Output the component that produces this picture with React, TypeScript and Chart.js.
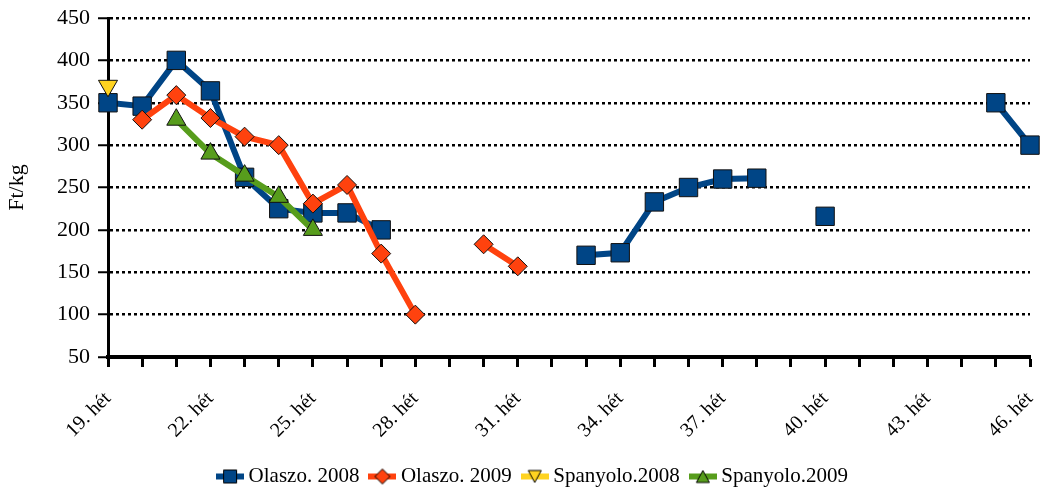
import React, { useEffect, useRef } from 'react';
import { Chart, registerables } from 'chart.js';

Chart.register(...registerables);

const weeks = [
  '19. hét', '20. hét', '21. hét', '22. hét', '23. hét', '24. hét', '25. hét',
  '26. hét', '27. hét', '28. hét', '29. hét', '30. hét', '31. hét', '32. hét',
  '33. hét', '34. hét', '35. hét', '36. hét', '37. hét', '38. hét', '39. hét',
  '40. hét', '41. hét', '42. hét', '43. hét', '44. hét', '45. hét', '46. hét',
];

const olaszo2008 = [350, 346, 400, 364, 262, 225, 220, 220, 200, null, null, null, null, null,
  170, 173, 233, 250, 260, 261, null, 216, null, null, null, null, 350, 300];
const olaszo2009 = [null, 330, 359, 332, 310, 300, 231, 253, 172, 100, null, 183, 157, null,
  null, null, null, null, null, null, null, null, null, null, null, null, null, null];
const spanyolo2008 = [370, null, null, null, null, null, null, null, null, null, null, null, null, null,
  null, null, null, null, null, null, null, null, null, null, null, null, null, null];
const spanyolo2009 = [null, null, 330, 290, 264, 239, 200, null, null, null, null, null, null, null,
  null, null, null, null, null, null, null, null, null, null, null, null, null, null];

const seriesNames = ['Olaszo. 2008', 'Olaszo. 2009', 'Spanyolo.2008', 'Spanyolo.2009'];
const yAxisTitle = 'Ft/kg';
const yMin = 50;
const yMax = 450;
const yStep = 50;

const FONT = '"Liberation Serif", "Times New Roman", serif';
const BLUE = '#004586';
const ORANGE = '#ff420e';
const YELLOW = '#ffd320';
const GREEN = '#579d1c';

const BOTTOM_PAD = -10;
const LEGEND_SHIFT = 18;

function makeIcon(color: string, shape: string): HTMLCanvasElement {
  const c = document.createElement('canvas');
  c.width = 28;
  c.height = 18;
  const ctx = c.getContext('2d')!;
  ctx.fillStyle = color;
  ctx.fillRect(0, 6, 28, 6);
  ctx.strokeStyle = '#000';
  ctx.lineWidth = 1;
  const cx = 14;
  const cy = 9;
  ctx.beginPath();
  if (shape === 'square') {
    ctx.rect(cx - 6.5, cy - 6.5, 13, 13);
  } else if (shape === 'diamond') {
    ctx.moveTo(cx, cy - 7.5);
    ctx.lineTo(cx + 7.5, cy);
    ctx.lineTo(cx, cy + 7.5);
    ctx.lineTo(cx - 7.5, cy);
    ctx.closePath();
  } else if (shape === 'down') {
    ctx.moveTo(cx - 6.5, cy - 6);
    ctx.lineTo(cx + 6.5, cy - 6);
    ctx.lineTo(cx, cy + 6);
    ctx.closePath();
  } else {
    ctx.moveTo(cx, cy - 6);
    ctx.lineTo(cx + 6.5, cy + 6);
    ctx.lineTo(cx - 6.5, cy + 6);
    ctx.closePath();
  }
  ctx.fill();
  ctx.stroke();
  return c;
}

const legendShift = {
  id: 'legendShift',
  afterLayout(chart: any) {
    const lg = chart.legend;
    if (lg) {
      lg.left += LEGEND_SHIFT;
      lg.right += LEGEND_SHIFT;
    }
  },
};

export default function App() {
  const ref = useRef<HTMLCanvasElement>(null);

  useEffect(() => {
    if (!ref.current) return;
    const icons = [
      makeIcon(BLUE, 'square'),
      makeIcon(ORANGE, 'diamond'),
      makeIcon(YELLOW, 'down'),
      makeIcon(GREEN, 'up'),
    ];
    const chart = new Chart(ref.current, {
      type: 'line',
      plugins: [legendShift],
      data: {
        labels: weeks,
        datasets: [
          {
            label: seriesNames[0],
            data: olaszo2008,
            borderColor: BLUE,
            backgroundColor: BLUE,
            borderWidth: 6,
            pointStyle: 'rect',
            pointRadius: 13,
            pointBorderColor: '#111',
            pointBorderWidth: 1,
            pointBackgroundColor: BLUE,
            order: 4,
          },
          {
            label: seriesNames[1],
            data: olaszo2009,
            borderColor: ORANGE,
            backgroundColor: ORANGE,
            borderWidth: 6,
            pointStyle: 'rectRot',
            pointRadius: 9.5,
            pointBorderColor: '#111',
            pointBorderWidth: 1,
            pointBackgroundColor: ORANGE,
            order: 3,
          },
          {
            label: seriesNames[2],
            data: spanyolo2008,
            borderColor: YELLOW,
            backgroundColor: YELLOW,
            borderWidth: 6,
            pointStyle: 'triangle',
            rotation: 180,
            pointRadius: 11,
            pointBorderColor: '#111',
            pointBorderWidth: 1,
            pointBackgroundColor: YELLOW,
            order: 2,
          },
          {
            label: seriesNames[3],
            data: spanyolo2009,
            borderColor: GREEN,
            backgroundColor: GREEN,
            borderWidth: 6,
            pointStyle: 'triangle',
            pointRadius: 11,
            pointBorderColor: '#111',
            pointBorderWidth: 1,
            pointBackgroundColor: GREEN,
            order: 1,
          },
        ],
      },
      options: {
        responsive: false,
        animation: false,
        devicePixelRatio: 1,
        layout: { padding: { left: 0, right: 10, top: 18, bottom: BOTTOM_PAD } },
        plugins: {
          tooltip: { enabled: false },
          legend: {
            position: 'bottom',
            labels: {
              color: '#000',
              font: { family: FONT, size: 21 },
              usePointStyle: true,
              pointStyleWidth: 16,
              padding: 15,
              generateLabels: () =>
                seriesNames.map((name, i) => ({
                  text: name,
                  pointStyle: icons[i],
                  fillStyle: 'transparent',
                  strokeStyle: 'transparent',
                  lineWidth: 0,
                  hidden: false,
                  datasetIndex: i,
                  fontColor: '#000',
                })),
            },
          },
        },
        scales: {
          x: {
            offset: false,
            afterFit: (scale: any) => {
              const lg = scale.chart.legend;
              const lh = lg ? lg.height : 0;
              scale.height = 487 - 357 - lh - BOTTOM_PAD;
              scale.paddingRight = 0;
              scale.paddingLeft = 0;
            },
            ticks: {
              autoSkip: false,
              maxRotation: 45,
              minRotation: 45,
              color: '#000',
              padding: 20,
              font: { family: FONT, size: 20 },
              callback: function (this: any, value: any, index: number) {
                return index % 3 === 0 ? this.getLabelForValue(value) : '';
              },
            },
            grid: {
              display: true,
              drawOnChartArea: false,
              drawTicks: true,
              tickLength: 10,
              tickColor: '#000',
              tickWidth: 3,
              tickBorderDash: [],
            },
            border: { display: true, color: '#000', width: 4 },
          },
          y: {
            min: yMin,
            max: yMax,
            afterFit: (scale: any) => {
              scale.width = 108;
              scale.paddingTop = 0;
              scale.paddingBottom = 0;
            },
            ticks: {
              stepSize: yStep,
              color: '#000',
              padding: 8,
              font: { family: FONT, size: 22 },
            },
            title: {
              display: true,
              text: yAxisTitle,
              color: '#000',
              font: { family: FONT, size: 22 },
              padding: { top: 4, bottom: 0 },
            },
            grid: {
              color: '#000',
              lineWidth: 2.5,
              drawTicks: true,
              tickLength: 10,
              tickColor: '#000',
              tickWidth: 2,
              tickBorderDash: [],
            },
            border: { display: true, color: '#000', width: 3, dash: [3, 3] },
          },
        },
      },
    });
    return () => chart.destroy();
  }, []);

  return (
    <div style={{ position: 'fixed', left: 0, top: 0, width: 1044, height: 487, background: '#fff' }}>
      <canvas ref={ref} width={1044} height={487} style={{ width: 1044, height: 487 }} />
    </div>
  );
}
